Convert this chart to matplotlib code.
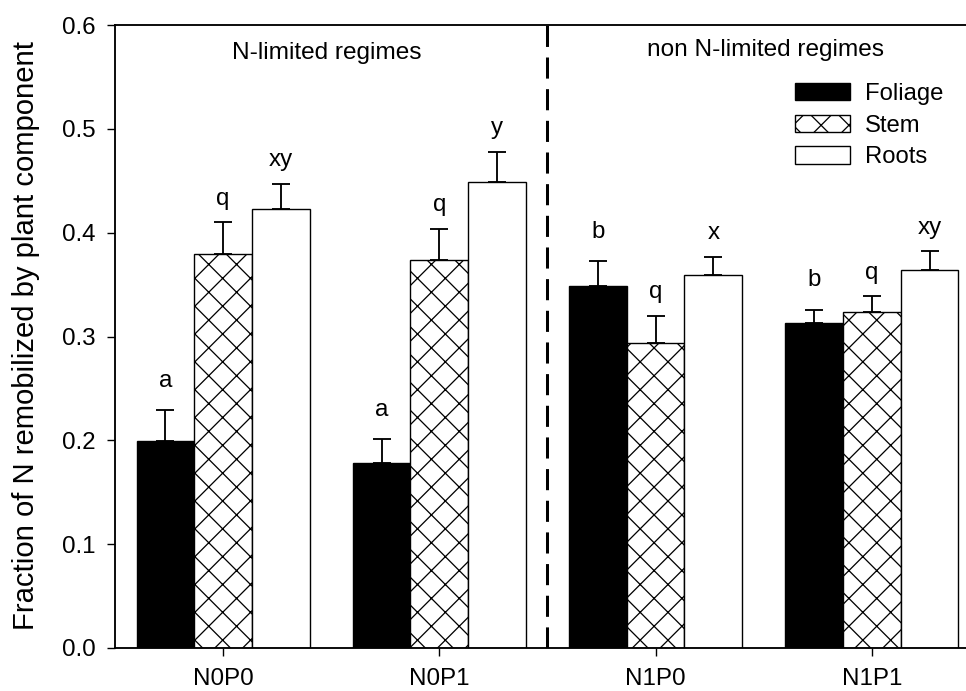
import numpy as np
import matplotlib
matplotlib.use("Agg")
import matplotlib.pyplot as plt

treatments = ["N0P0", "N0P1", "N1P0", "N1P1"]
components = ["Foliage", "Stem", "Roots"]

foliage = [0.199, 0.178, 0.349, 0.313]
stem = [0.379, 0.374, 0.294, 0.324]
roots = [0.423, 0.449, 0.359, 0.364]

foliage_err = [0.030, 0.023, 0.024, 0.013]
stem_err = [0.031, 0.030, 0.026, 0.015]
roots_err = [0.024, 0.029, 0.018, 0.018]

foliage_letters = ["a", "a", "b", "b"]
stem_letters = ["q", "q", "q", "q"]
roots_letters = ["xy", "y", "x", "xy"]

plt.rcParams['font.family'] = ['Liberation Sans', 'DejaVu Sans']
plt.rcParams['hatch.linewidth'] = 0.55

dpi = 167
fig = plt.figure(figsize=(967 / dpi, 691 / dpi), dpi=dpi)
ax = fig.add_axes([115 / 967, 43 / 691, 1 - 115 / 967, 623 / 691])

x = np.arange(len(treatments))
w = 0.267
series = [
    (foliage, foliage_err, foliage_letters, 10, dict(color="black", edgecolor="black")),
    (stem, stem_err, stem_letters, 7.5, dict(color="white", edgecolor="black", hatch="xx")),
    (roots, roots_err, roots_letters, 7.5, dict(color="white", edgecolor="black")),
]

for i, (vals, errs, letters, off, style) in enumerate(series):
    xs = x + (i - 1) * w
    ax.bar(xs, vals, w, linewidth=0.6, label=components[i], zorder=2, **style)
    ax.errorbar(xs, vals, yerr=[np.zeros(len(errs)), errs], fmt="none",
                ecolor="black", elinewidth=0.8, capsize=3.8, capthick=0.8, zorder=3)
    for xi, v, e, t in zip(xs, vals, errs, letters):
        ax.annotate(t, (xi, v + e), xytext=(0, off), textcoords="offset points",
                    ha="center", va="baseline", fontsize=10.4)

ax.axvline(1.5, color="black", lw=1.3, dashes=(7, 3.5), zorder=1)

ax.text(0.477, 0.573, "N-limited regimes", ha="center", va="center", fontsize=10.5)
ax.text(2.51, 0.576, "non N-limited regimes", ha="center", va="center", fontsize=10.5)

ax.set_xlim(-0.5, 3.44)
ax.set_ylim(0, 0.6)
ax.set_xticks(x)
ax.set_xticklabels(treatments, fontsize=10.4)
ax.set_yticks(np.arange(0, 0.61, 0.1))
ax.set_yticklabels([f"{v:.1f}" for v in np.arange(0, 0.61, 0.1)], fontsize=10.4)
ax.tick_params(direction="out", length=3.5, width=0.6)
ax.tick_params(axis="y", pad=5)
ax.tick_params(axis="x", pad=5)
ax.set_ylabel("Fraction of N remobilized by plant component", fontsize=12.6)
ax.yaxis.set_label_coords(-0.088, 0.502)

ax.spines["right"].set_visible(False)
for s in ["left", "top", "bottom"]:
    ax.spines[s].set_linewidth(0.8)

ax.legend(loc="upper left", bbox_to_anchor=(795 / 967, 1 - 83 / 691),
          bbox_transform=fig.transFigure, frameon=False, fontsize=10.3,
          borderpad=0, borderaxespad=0, handlelength=2.3, handleheight=0.75,
          handletextpad=0.63, labelspacing=0.4)

fig.savefig("out.png", dpi=dpi)
